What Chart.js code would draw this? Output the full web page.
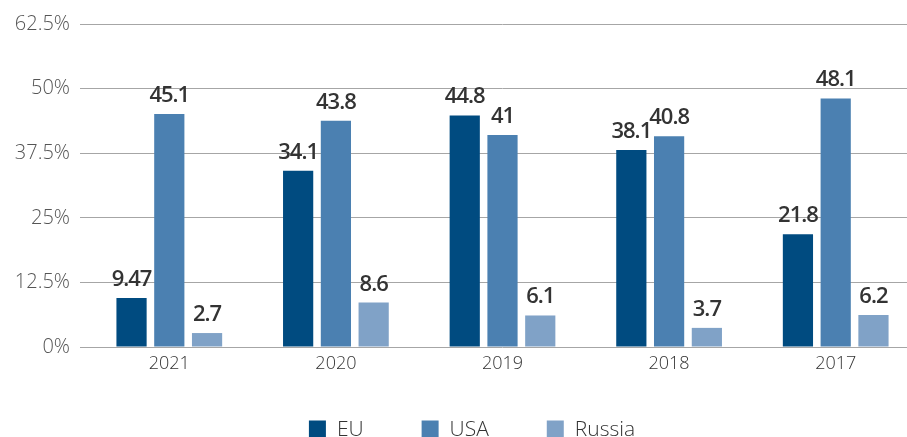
<!DOCTYPE html>
<html>
<head>
<meta charset="utf-8">
<script src="https://cdn.jsdelivr.net/npm/chart.js@4.4.1/dist/chart.umd.min.js"></script>
<style>
  html, body { margin: 0; padding: 0; background: #fff; overflow: hidden; }
  #wrap { width: 919px; height: 437px; }
</style>
</head>
<body>
<div id="wrap"><canvas id="chart" width="919" height="437"></canvas></div>
<script>
// chart data
const years = ['2021', '2020', '2019', '2018', '2017'];
const seriesNames = ['EU', 'USA', 'Russia'];
const euValues = [9.47, 34.1, 44.8, 38.1, 21.8];
const usaValues = [45.1, 43.8, 41, 40.8, 48.1];
const russiaValues = [2.7, 8.6, 6.1, 3.7, 6.2];
const yTicks = [0, 12.5, 25, 37.5, 50, 62.5];

const colors = ['#004b80', '#4b80b1', '#80a2c7'];

// value labels above each bar
const barLabels = {
  id: 'barLabels',
  afterDatasetsDraw(chart) {
    const ctx = chart.ctx;
    ctx.save();
    ctx.font = '600 22px "Open Sans"';
    ctx.letterSpacing = '-1px';
    ctx.fillStyle = '#333';
    ctx.textAlign = 'center';
    ctx.textBaseline = 'alphabetic';
    chart.data.datasets.forEach((ds, i) => {
      chart.getDatasetMeta(i).data.forEach((bar, j) => {
        ctx.fillText(String(ds.data[j]), bar.x, bar.y - 12);
      });
    });
    ctx.restore();
  }
};

// legend along the bottom
const bottomLegend = {
  id: 'bottomLegend',
  afterDraw(chart) {
    const ctx = chart.ctx;
    const box = 17, gap = 11, spacing = 58;
    ctx.save();
    ctx.font = '300 21px "Open Sans"';
    const widths = chart.data.datasets.map(ds => box + gap + ctx.measureText(ds.label).width);
    const total = widths.reduce((a, b) => a + b, 0) + spacing * (widths.length - 1);
    let x = 472 - total / 2;
    const yMid = 429;
    chart.data.datasets.forEach((ds, i) => {
      ctx.fillStyle = ds.backgroundColor;
      ctx.fillRect(x, yMid - box / 2 + 0, box, box);
      ctx.fillStyle = '#333';
      ctx.textBaseline = 'middle';
      ctx.fillText(ds.label, x + box + gap, yMid + 1);
      x += widths[i] + spacing;
    });
    ctx.restore();
  }
};

const ctx = document.getElementById('chart').getContext('2d');
const chart = new Chart(ctx, {
  type: 'bar',
  data: {
    labels: years,
    datasets: [
      { label: seriesNames[0], data: euValues, backgroundColor: colors[0] },
      { label: seriesNames[1], data: usaValues, backgroundColor: colors[1] },
      { label: seriesNames[2], data: russiaValues, backgroundColor: colors[2] }
    ]
  },
  options: {
    responsive: false,
    animation: false,
    devicePixelRatio: 1,
    categoryPercentage: 0.68,
    barPercentage: 0.8,
    layout: { padding: { top: 24, right: 0, bottom: 60, left: 0 } },
    plugins: {
      legend: { display: false },
      tooltip: { enabled: false }
    },
    scales: {
      x: {
        grid: { display: false, drawTicks: false },
        border: { display: false },
        ticks: {
          color: '#333',
          padding: 6,
          font: { family: 'Open Sans', size: 18, weight: 300 }
        },
        afterFit(scale) { scale.height = 30; }
      },
      y: {
        min: 0,
        max: 62.5,
        afterBuildTicks(scale) { scale.ticks = yTicks.map(v => ({ value: v })); },
        grid: { color: '#a6a6a6', lineWidth: 1, drawTicks: true, tickLength: 6 },
        border: { display: false },
        ticks: {
          color: '#555',
          padding: 10,
          font: { family: 'Open Sans', size: 20, weight: 300 },
          callback: v => v + '%'
        },
        afterFit(scale) { scale.width = 86; }
      }
    }
  },
  plugins: [barLabels, bottomLegend]
});
</script>
</body>
</html>
